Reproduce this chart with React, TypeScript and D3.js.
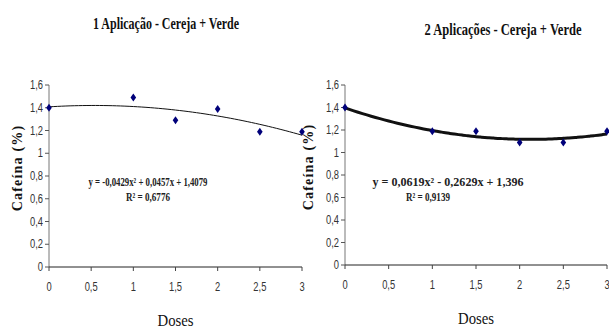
import * as d3 from "d3";

/* ------------------------------------------------------------------ */
/*  Data                                                              */
/* ------------------------------------------------------------------ */

const doses = [0, 1, 1.5, 2, 2.5, 3];
const cafeina1 = [1.4, 1.49, 1.29, 1.39, 1.19, 1.19];
const cafeina2 = [1.4, 1.19, 1.19, 1.09, 1.09, 1.19];

// trend line coefficients (a x^2 + b x + c)
const fit1 = [-0.0429, 0.0457, 1.4079];
const fit2 = [0.0619, -0.2629, 1.396];

const xTicks = [0, 0.5, 1, 1.5, 2, 2.5, 3];
const yTicks = [0, 0.2, 0.4, 0.6, 0.8, 1, 1.2, 1.4, 1.6];

const titles = ["1 Aplicação - Cereja + Verde", "2 Aplicações - Cereja + Verde"];
const equations = ["y = -0,0429x² + 0,0457x + 1,4079", "y = 0,0619x² - 0,2629x + 1,396"];
const r2Labels = ["R² = 0,6776", "R² = 0,9139"];

const W = 609;
const H = 331;

const fmt = (v: number) => String(v).replace(".", ",");

const tickFont = "'Liberation Sans', Arial, sans-serif";
const serif = "'Liberation Serif', 'Times New Roman', serif";

interface PanelProps {
  values: number[];
  fit: number[];
  x0: number;
  x1: number;
  y0: number;
  y1: number;
  title: string;
  titleX: number;
  titleY: number;
  titleLen: number;
  eq: string;
  eqX: number;
  eqLen: number;
  r2: string;
  r2X: number;
  yLabelX: number;
  lineWidth: number;
  yAxisColor: string;
  yAxisWidth: number;
}

function Panel(p: PanelProps) {
  const x = d3.scaleLinear().domain([0, 3]).range([p.x0, p.x1]);
  const y = d3.scaleLinear().domain([0, 1.6]).range([p.y0, p.y1]);

  const curvePts = d3
    .range(0, 3.0001, 0.05)
    .map((d) => [d, p.fit[0] * d * d + p.fit[1] * d + p.fit[2]] as [number, number]);
  const line = d3
    .line<[number, number]>()
    .x((d) => x(d[0]))
    .y((d) => y(d[1]))
    .curve(d3.curveMonotoneX);

  const diamond = (cx: number, cy: number) =>
    `M${cx},${cy - 4} L${cx + 2.8},${cy} L${cx},${cy + 4} L${cx - 2.8},${cy} Z`;

  // narrow tick labels (Arial Narrow look)
  const tickLabel = (tx: number, ty: number, anchor: string, s: string) => (
    <text
      transform={`translate(${tx},${ty}) scale(0.78,1)`}
      dy="0.35em"
      textAnchor={anchor}
      fontFamily={tickFont}
      fontSize={12}
      fill="#333"
    >
      {s}
    </text>
  );

  return (
    <g>
      <text
        x={p.titleX}
        y={p.titleY}
        textAnchor="middle"
        fontFamily={serif}
        fontWeight="bold"
        fontSize={17}
        textLength={p.titleLen}
        lengthAdjust="spacingAndGlyphs"
        fill="#111"
      >
        {p.title}
      </text>

      {/* Y axis */}
      <line x1={p.x0} x2={p.x0} y1={y(0)} y2={y(1.6)} stroke={p.yAxisColor} strokeWidth={p.yAxisWidth} />
      {yTicks.map((t) => (
        <g key={t}>
          <line x1={p.x0 - 4} x2={p.x0} y1={y(t)} y2={y(t)} stroke="#555" strokeWidth={1} />
          {tickLabel(p.x0 - 6, y(t), "end", fmt(t))}
        </g>
      ))}

      {/* X axis */}
      <line x1={p.x0} x2={p.x1} y1={y(0)} y2={y(0)} stroke="#222" strokeWidth={1} />
      {xTicks.map((t) => (
        <g key={t}>
          <line x1={x(t)} x2={x(t)} y1={y(0)} y2={y(0) + 4} stroke="#444" strokeWidth={1} />
          {tickLabel(x(t), y(0) + 20, "middle", fmt(t))}
        </g>
      ))}

      <text
        x={(p.x0 + p.x1) / 2}
        y={y(0) + 53}
        dy="0.35em"
        textAnchor="middle"
        fontFamily={serif}
        fontSize={17}
        textLength={36}
        lengthAdjust="spacingAndGlyphs"
        fill="#111"
      >
        Doses
      </text>

      <text
        transform={`translate(${p.yLabelX},${(y(0) + y(1.6)) / 2 - 8}) rotate(-90)`}
        textAnchor="middle"
        dy="0.35em"
        fontFamily={serif}
        fontWeight="bold"
        fontSize={14}
        letterSpacing={1.2}
        fill="#111"
      >
        Cafeína (%)
      </text>

      {/* trend line */}
      <path d={line(curvePts) ?? ""} fill="none" stroke="#111" strokeWidth={p.lineWidth} />

      {/* points */}
      {doses.map((d, i) => (
        <path key={d} d={diamond(x(d), y(p.values[i]))} fill="#00007a" />
      ))}

      <text
        x={p.eqX}
        y={181}
        dy="0.35em"
        textAnchor="middle"
        fontFamily={serif}
        fontWeight="bold"
        fontSize={13}
        textLength={p.eqLen}
        lengthAdjust="spacingAndGlyphs"
        fill="#222"
      >
        {p.eq}
      </text>
      <text
        x={p.r2X}
        y={196}
        dy="0.35em"
        textAnchor="middle"
        fontFamily={serif}
        fontWeight="bold"
        fontSize={13}
        textLength={44}
        lengthAdjust="spacingAndGlyphs"
        fill="#222"
      >
        {p.r2}
      </text>
    </g>
  );
}

export default function App() {
  return (
    <svg
      width={W}
      height={H}
      viewBox={`0 0 ${W} ${H}`}
      style={{ position: "absolute", left: 0, top: 0, background: "#fff" }}
    >
      <Panel
        values={cafeina1}
        fit={fit1}
        x0={49}
        x1={302}
        y0={267}
        y1={85}
        title={titles[0]}
        titleX={166}
        titleY={29}
        titleLen={146}
        eq={equations[0]}
        eqX={148}
        eqLen={119}
        r2={r2Labels[0]}
        r2X={148}
        yLabelX={17}
        lineWidth={1}
        yAxisColor="#777"
        yAxisWidth={1}
      />
      <Panel
        values={cafeina2}
        fit={fit2}
        x0={345}
        x1={607}
        y0={265}
        y1={85}
        title={titles[1]}
        titleX={503}
        titleY={35}
        titleLen={157}
        eq={equations[1]}
        eqX={448}
        eqLen={151}
        r2={r2Labels[1]}
        r2X={428}
        yLabelX={308}
        lineWidth={3}
        yAxisColor="#bbb"
        yAxisWidth={2}
      />
    </svg>
  );
}
